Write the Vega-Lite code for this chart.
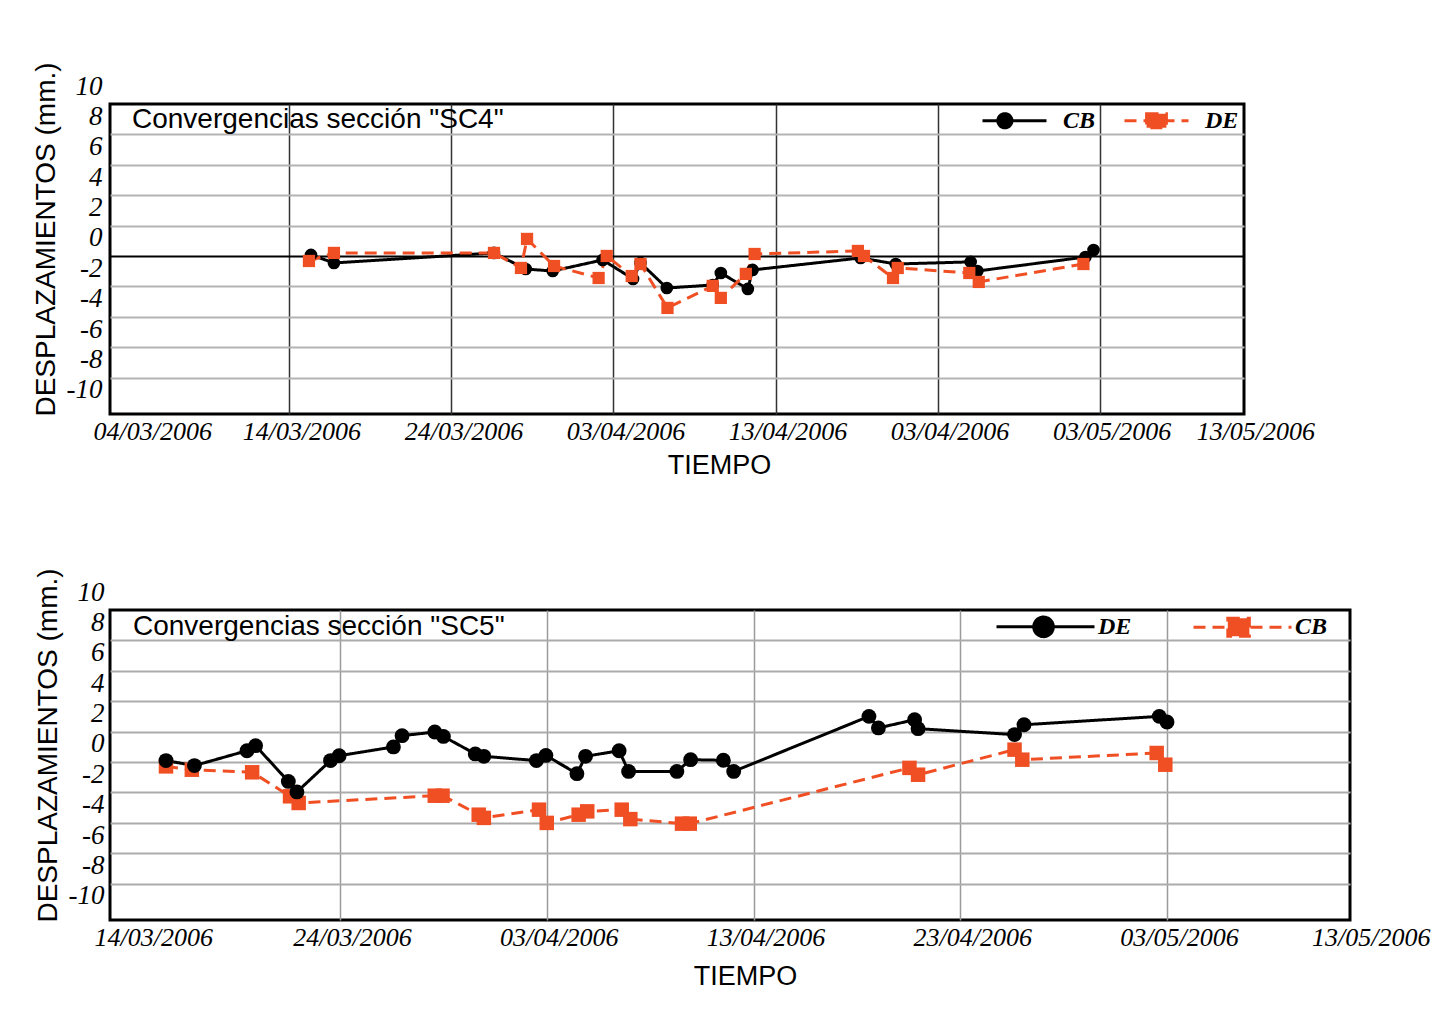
{
  "$schema": "https://vega.github.io/schema/vega-lite/v6.json",
  "background": "white",
  "padding": {"left": 30, "top": 60, "right": 0, "bottom": 0},
  "spacing": 86,
  "datasets": {
    "top": [
      {"series": "CB", "date": "2006-03-15T08:00:00Z", "value": 0.07},
      {"series": "CB", "date": "2006-03-16T18:00:00Z", "value": -0.46},
      {"series": "CB", "date": "2006-03-26T15:00:00Z", "value": 0.2},
      {"series": "CB", "date": "2006-03-28T14:00:00Z", "value": -0.86},
      {"series": "CB", "date": "2006-03-30T06:00:00Z", "value": -0.99},
      {"series": "CB", "date": "2006-04-02T08:00:00Z", "value": -0.26},
      {"series": "CB", "date": "2006-04-04T05:00:00Z", "value": -1.51},
      {"series": "CB", "date": "2006-04-04T16:00:00Z", "value": -0.46},
      {"series": "CB", "date": "2006-04-06T07:00:00Z", "value": -2.11},
      {"series": "CB", "date": "2006-04-09T03:00:00Z", "value": -1.91},
      {"series": "CB", "date": "2006-04-09T15:00:00Z", "value": -1.12},
      {"series": "CB", "date": "2006-04-11T07:00:00Z", "value": -2.17},
      {"series": "CB", "date": "2006-04-11T14:00:00Z", "value": -0.92},
      {"series": "CB", "date": "2006-04-18T06:00:00Z", "value": -0.13},
      {"series": "CB", "date": "2006-04-20T10:00:00Z", "value": -0.53},
      {"series": "CB", "date": "2006-04-25T01:00:00Z", "value": -0.39},
      {"series": "CB", "date": "2006-04-25T11:00:00Z", "value": -0.99},
      {"series": "CB", "date": "2006-05-02T03:00:00Z", "value": -0.07},
      {"series": "CB", "date": "2006-05-02T15:00:00Z", "value": 0.39},
      {"series": "DE", "date": "2006-03-15T05:00:00Z", "value": -0.33},
      {"series": "DE", "date": "2006-03-16T18:00:00Z", "value": 0.2},
      {"series": "DE", "date": "2006-03-26T15:00:00Z", "value": 0.2},
      {"series": "DE", "date": "2006-03-28T07:00:00Z", "value": -0.79},
      {"series": "DE", "date": "2006-03-28T16:00:00Z", "value": 1.12},
      {"series": "DE", "date": "2006-03-30T08:00:00Z", "value": -0.66},
      {"series": "DE", "date": "2006-04-02T02:00:00Z", "value": -1.45},
      {"series": "DE", "date": "2006-04-02T14:00:00Z", "value": 0.0},
      {"series": "DE", "date": "2006-04-04T03:00:00Z", "value": -1.32},
      {"series": "DE", "date": "2006-04-04T16:00:00Z", "value": -0.53},
      {"series": "DE", "date": "2006-04-06T08:00:00Z", "value": -3.42},
      {"series": "DE", "date": "2006-04-09T03:00:00Z", "value": -1.97},
      {"series": "DE", "date": "2006-04-09T15:00:00Z", "value": -2.76},
      {"series": "DE", "date": "2006-04-11T04:00:00Z", "value": -1.18},
      {"series": "DE", "date": "2006-04-11T17:00:00Z", "value": 0.13},
      {"series": "DE", "date": "2006-04-18T02:00:00Z", "value": 0.33},
      {"series": "DE", "date": "2006-04-18T11:00:00Z", "value": 0.0},
      {"series": "DE", "date": "2006-04-20T06:00:00Z", "value": -1.45},
      {"series": "DE", "date": "2006-04-20T13:00:00Z", "value": -0.79},
      {"series": "DE", "date": "2006-04-24T23:00:00Z", "value": -1.12},
      {"series": "DE", "date": "2006-04-25T13:00:00Z", "value": -1.71},
      {"series": "DE", "date": "2006-05-02T00:00:00Z", "value": -0.53}
    ],
    "bottom": [
      {"series": "CB", "date": "2006-03-15T14:00:00Z", "value": -0.29},
      {"series": "CB", "date": "2006-03-16T20:00:00Z", "value": -0.51},
      {"series": "CB", "date": "2006-03-19T18:00:00Z", "value": -0.68},
      {"series": "CB", "date": "2006-03-21T14:00:00Z", "value": -2.26},
      {"series": "CB", "date": "2006-03-22T00:00:00Z", "value": -2.7},
      {"series": "CB", "date": "2006-03-28T14:00:00Z", "value": -2.22},
      {"series": "CB", "date": "2006-03-28T23:00:00Z", "value": -2.22},
      {"series": "CB", "date": "2006-03-30T17:00:00Z", "value": -3.47},
      {"series": "CB", "date": "2006-03-30T23:00:00Z", "value": -3.68},
      {"series": "CB", "date": "2006-04-02T15:00:00Z", "value": -3.14},
      {"series": "CB", "date": "2006-04-03T00:00:00Z", "value": -4.01},
      {"series": "CB", "date": "2006-04-04T13:00:00Z", "value": -3.47},
      {"series": "CB", "date": "2006-04-04T23:00:00Z", "value": -3.25},
      {"series": "CB", "date": "2006-04-06T15:00:00Z", "value": -3.14},
      {"series": "CB", "date": "2006-04-07T01:00:00Z", "value": -3.76},
      {"series": "CB", "date": "2006-04-09T13:00:00Z", "value": -4.06},
      {"series": "CB", "date": "2006-04-09T22:00:00Z", "value": -4.06},
      {"series": "CB", "date": "2006-04-20T13:00:00Z", "value": -0.39},
      {"series": "CB", "date": "2006-04-20T23:00:00Z", "value": -0.84},
      {"series": "CB", "date": "2006-04-25T15:00:00Z", "value": 0.81},
      {"series": "CB", "date": "2006-04-26T00:00:00Z", "value": 0.15},
      {"series": "CB", "date": "2006-05-02T12:00:00Z", "value": 0.59},
      {"series": "CB", "date": "2006-05-02T22:00:00Z", "value": -0.18},
      {"series": "DE", "date": "2006-03-15T14:00:00Z", "value": 0.09},
      {"series": "DE", "date": "2006-03-16T23:00:00Z", "value": -0.24},
      {"series": "DE", "date": "2006-03-19T12:00:00Z", "value": 0.74},
      {"series": "DE", "date": "2006-03-19T22:00:00Z", "value": 1.07},
      {"series": "DE", "date": "2006-03-21T12:00:00Z", "value": -1.28},
      {"series": "DE", "date": "2006-03-21T22:00:00Z", "value": -1.97},
      {"series": "DE", "date": "2006-03-23T13:00:00Z", "value": 0.09},
      {"series": "DE", "date": "2006-03-23T23:00:00Z", "value": 0.41},
      {"series": "DE", "date": "2006-03-26T14:00:00Z", "value": 0.99},
      {"series": "DE", "date": "2006-03-27T00:00:00Z", "value": 1.73},
      {"series": "DE", "date": "2006-03-28T14:00:00Z", "value": 1.97},
      {"series": "DE", "date": "2006-03-29T00:00:00Z", "value": 1.68},
      {"series": "DE", "date": "2006-03-30T13:00:00Z", "value": 0.53},
      {"series": "DE", "date": "2006-03-30T23:00:00Z", "value": 0.37},
      {"series": "DE", "date": "2006-04-02T12:00:00Z", "value": 0.09},
      {"series": "DE", "date": "2006-04-02T23:00:00Z", "value": 0.43},
      {"series": "DE", "date": "2006-04-04T11:00:00Z", "value": -0.77},
      {"series": "DE", "date": "2006-04-04T21:00:00Z", "value": 0.37},
      {"series": "DE", "date": "2006-04-06T12:00:00Z", "value": 0.74},
      {"series": "DE", "date": "2006-04-06T23:00:00Z", "value": -0.62},
      {"series": "DE", "date": "2006-04-09T07:00:00Z", "value": -0.62},
      {"series": "DE", "date": "2006-04-09T23:00:00Z", "value": 0.15},
      {"series": "DE", "date": "2006-04-11T13:00:00Z", "value": 0.11},
      {"series": "DE", "date": "2006-04-12T01:00:00Z", "value": -0.62},
      {"series": "DE", "date": "2006-04-18T14:00:00Z", "value": 3.0},
      {"series": "DE", "date": "2006-04-19T01:00:00Z", "value": 2.24},
      {"series": "DE", "date": "2006-04-20T19:00:00Z", "value": 2.78},
      {"series": "DE", "date": "2006-04-20T23:00:00Z", "value": 2.19},
      {"series": "DE", "date": "2006-04-25T15:00:00Z", "value": 1.8},
      {"series": "DE", "date": "2006-04-26T02:00:00Z", "value": 2.45},
      {"series": "DE", "date": "2006-05-02T15:00:00Z", "value": 3.0},
      {"series": "DE", "date": "2006-05-03T00:00:00Z", "value": 2.63}
    ]
  },
  "vconcat": [
    {
      "width": 1134,
      "height": 310,
      "data": {"name": "top"},
      "title": {"text": "Convergencias sección \"SC4\"", "anchor": "start", "frame": "group", "offset": -86, "dx": 22, "baseline": "middle", "font": "Liberation Sans", "fontSize": 28, "fontWeight": "normal", "color": "#000000"},
      "encoding": {
        "x": {
          "field": "date", "type": "temporal",
          "scale": {"type": "utc", "domain": [{"year": 2006, "month": 3, "date": 2, "hours": 22, "minutes": 20, "utc": true}, {"year": 2006, "month": 5, "date": 11, "hours": 21, "minutes": 50, "utc": true}]},
          "axis": {
            "values": [
              {"year": 2006, "month": 3, "date": 4, "utc": true},
              {"year": 2006, "month": 3, "date": 14, "utc": true},
              {"year": 2006, "month": 3, "date": 24, "utc": true},
              {"year": 2006, "month": 4, "date": 3, "utc": true},
              {"year": 2006, "month": 4, "date": 13, "utc": true},
              {"year": 2006, "month": 4, "date": 23, "utc": true},
              {"year": 2006, "month": 5, "date": 3, "utc": true},
              {"year": 2006, "month": 5, "date": 11, "hours": 12, "utc": true}
            ],
            "labelExpr": "utcmonth(datum.value) == 3 && utcdate(datum.value) == 23 ? '03/04/2006' : (utcmonth(datum.value) == 4 && utcdate(datum.value) == 11 ? '13/05/2006' : utcFormat(datum.value, '%d/%m/%Y'))",
            "labelOffset": {"condition": [{"test": "utcmonth(datum.value) == 2 && utcdate(datum.value) == 4", "value": 25}, {"test": "utcmonth(datum.value) == 4 && utcdate(datum.value) == 11", "value": 18}], "value": 12},
            "gridOpacity": {"condition": {"test": "(utcmonth(datum.value) == 2 && utcdate(datum.value) == 4) || (utcmonth(datum.value) == 4 && utcdate(datum.value) == 11)", "value": 0}, "value": 1},
            "gridColor": "#333333",
            "gridWidth": 1.5,
            "ticks": false, "tickSize": 0, "domain": false,
            "labelOverlap": false, "labelFlush": false, "labelBound": false,
            "labelFont": "Liberation Serif", "labelFontStyle": "italic", "labelFontSize": 26, "labelColor": "#000000", "labelPadding": 4,
            "title": "TIEMPO", "titleFont": "Liberation Sans", "titleFontSize": 27, "titleFontWeight": "normal", "titleColor": "#000000", "titlePadding": 8, "titleX": 609
          }
        },
        "y": {
          "field": "value", "type": "quantitative",
          "scale": {"domain": [-10.4, 10], "nice": false, "zero": false},
          "axis": {
            "values": [-10, -8, -6, -4, -2, 0, 2, 4, 6, 8, 10],
            "labelExpr": "'' + datum.value",
            "labelOffset": -18,
            "gridColor": {"condition": {"test": "datum.value === 0", "value": "#000000"}, "value": "#b4b4b4"},
            "gridOpacity": {"condition": {"test": "abs(datum.value) === 10", "value": 0}, "value": 1},
            "gridWidth": 2,
            "ticks": false, "tickSize": 0, "domain": false,
            "labelOverlap": false, "labelFlush": false, "labelBound": false,
            "labelFont": "Liberation Serif", "labelFontStyle": "italic", "labelFontSize": 27, "labelColor": "#000000", "labelPadding": 8,
            "title": "DESPLAZAMIENTOS (mm.)", "titleFont": "Liberation Sans", "titleFontSize": 28, "titleFontWeight": "normal", "titleColor": "#000000", "titlePadding": 6, "titleY": 135
          }
        },
        "color": {
          "field": "series", "type": "nominal",
          "scale": {"domain": ["CB", "DE"], "range": ["#000000", "#f04f24"]},
          "legend": {
            "orient": "none", "legendX": 871, "legendY": -17, "direction": "horizontal", "title": null,
            "symbolSize": 4096, "symbolStrokeWidth": 3, "padding": 0,
            "symbolType": "M-1,0L1,0M-0.08,0A0.22,0.22,0,1,1,-0.52,0A0.22,0.22,0,1,1,-0.08,0Z",
            "labelFont": "Liberation Serif", "labelFontStyle": "italic", "labelFontWeight": "bold", "labelFontSize": 24, "labelColor": "#000000",
            "labelOffset": 15, "columnPadding": 22,
            "encoding": {
              "symbols": {
                "shape": {"condition": {"test": "datum.value === 'CB'", "value": "M-1,0L1,0M-0.08,0A0.22,0.22,0,1,1,-0.52,0A0.22,0.22,0,1,1,-0.08,0Z"}, "value": "M-1,0L1,0M-0.31,-0.22H0.31V0.22H-0.31Z"},
                "fill": {"condition": {"test": "datum.value === 'CB'", "value": "#000000"}, "value": "#f04f24"},
                "stroke": {"condition": {"test": "datum.value === 'CB'", "value": "#000000"}, "value": "#f04f24"},
                "strokeDash": {"condition": {"test": "datum.value === 'CB'", "value": [1, 0]}, "value": [8, 5]},
                "opacity": {"value": 1}
              }
            }
          }
        }
      },
      "layer": [
        {
          "mark": {"type": "line", "strokeWidth": 3},
          "encoding": {"strokeDash": {"field": "series", "type": "nominal", "scale": {"domain": ["CB", "DE"], "range": [[1, 0], [12, 7]]}, "legend": null}}
        },
        {
          "transform": [{"filter": "datum.series === 'CB'"}],
          "mark": {"type": "circle", "opacity": 1, "size": 160}
        },
        {
          "transform": [{"filter": "datum.series === 'DE'"}],
          "mark": {"type": "square", "opacity": 1, "size": 150}
        }
      ]
    },
    {
      "width": 1240,
      "height": 310,
      "data": {"name": "bottom"},
      "title": {"text": "Convergencias sección \"SC5\"", "anchor": "start", "frame": "group", "offset": -87, "dx": 23, "baseline": "middle", "font": "Liberation Sans", "fontSize": 28, "fontWeight": "normal", "color": "#000000"},
      "encoding": {
        "x": {
          "field": "date", "type": "temporal",
          "scale": {"type": "utc", "domain": [{"year": 2006, "month": 3, "date": 12, "hours": 21, "minutes": 0, "utc": true}, {"year": 2006, "month": 5, "date": 11, "hours": 20, "minutes": 24, "utc": true}]},
          "axis": {
            "values": [
              {"year": 2006, "month": 3, "date": 14, "utc": true},
              {"year": 2006, "month": 3, "date": 24, "utc": true},
              {"year": 2006, "month": 4, "date": 3, "utc": true},
              {"year": 2006, "month": 4, "date": 13, "utc": true},
              {"year": 2006, "month": 4, "date": 23, "utc": true},
              {"year": 2006, "month": 5, "date": 3, "utc": true},
              {"year": 2006, "month": 5, "date": 11, "hours": 12, "utc": true}
            ],
            "labelExpr": "utcmonth(datum.value) == 4 && utcdate(datum.value) == 11 ? '13/05/2006' : utcFormat(datum.value, '%d/%m/%Y')",
            "labelOffset": {"condition": [{"test": "utcmonth(datum.value) == 2 && utcdate(datum.value) == 14", "value": 20}, {"test": "utcmonth(datum.value) == 4 && utcdate(datum.value) == 11", "value": 28}], "value": 12},
            "gridOpacity": {"condition": {"test": "(utcmonth(datum.value) == 2 && utcdate(datum.value) == 14) || (utcmonth(datum.value) == 4 && utcdate(datum.value) == 11)", "value": 0}, "value": 1},
            "gridColor": "#9a9a9a",
            "gridWidth": 1.5,
            "ticks": false, "tickSize": 0, "domain": false,
            "labelOverlap": false, "labelFlush": false, "labelBound": false,
            "labelFont": "Liberation Serif", "labelFontStyle": "italic", "labelFontSize": 26, "labelColor": "#000000", "labelPadding": 4,
            "title": "TIEMPO", "titleFont": "Liberation Sans", "titleFontSize": 27, "titleFontWeight": "normal", "titleColor": "#000000", "titlePadding": 13, "titleX": 635
          }
        },
        "y": {
          "field": "value", "type": "quantitative",
          "scale": {"domain": [-10.4, 10], "nice": false, "zero": false},
          "axis": {
            "values": [-10, -8, -6, -4, -2, 0, 2, 4, 6, 8, 10],
            "labelExpr": "'' + datum.value",
            "labelOffset": -18,
            "gridColor": "#ababab",
            "gridOpacity": {"condition": {"test": "abs(datum.value) === 10", "value": 0}, "value": 1},
            "gridWidth": 2,
            "ticks": false, "tickSize": 0, "domain": false,
            "labelOverlap": false, "labelFlush": false, "labelBound": false,
            "labelFont": "Liberation Serif", "labelFontStyle": "italic", "labelFontSize": 27, "labelColor": "#000000", "labelPadding": 6,
            "title": "DESPLAZAMIENTOS (mm.)", "titleFont": "Liberation Sans", "titleFontSize": 28, "titleFontWeight": "normal", "titleColor": "#000000", "titlePadding": 6, "titleY": 135
          }
        },
        "color": {
          "field": "series", "type": "nominal",
          "scale": {"domain": ["DE", "CB"], "range": ["#000000", "#f04f24"]},
          "legend": {
            "orient": "none", "legendX": 885, "legendY": -34, "direction": "horizontal", "title": null,
            "symbolSize": 9604, "symbolStrokeWidth": 3, "padding": 0,
            "symbolType": "M-1,0L1,0M0.16,0A0.2,0.2,0,1,1,-0.24,0A0.2,0.2,0,1,1,0.16,0Z",
            "labelFont": "Liberation Serif", "labelFontStyle": "italic", "labelFontWeight": "bold", "labelFontSize": 24, "labelColor": "#000000",
            "labelOffset": 2, "columnPadding": 55,
            "encoding": {
              "symbols": {
                "shape": {"condition": {"test": "datum.value === 'DE'", "value": "M-1,0L1,0M0.16,0A0.2,0.2,0,1,1,-0.24,0A0.2,0.2,0,1,1,0.16,0Z"}, "value": "M-1,0L1,0M-0.3,-0.185H0.14V0.185H-0.3Z"},
                "fill": {"condition": {"test": "datum.value === 'DE'", "value": "#000000"}, "value": "#f04f24"},
                "stroke": {"condition": {"test": "datum.value === 'DE'", "value": "#000000"}, "value": "#f04f24"},
                "strokeDash": {"condition": {"test": "datum.value === 'DE'", "value": [1, 0]}, "value": [10, 6]},
                "opacity": {"value": 1}
              }
            }
          }
        }
      },
      "layer": [
        {
          "mark": {"type": "line", "strokeWidth": 3},
          "encoding": {"strokeDash": {"field": "series", "type": "nominal", "scale": {"domain": ["DE", "CB"], "range": [[1, 0], [12, 7]]}, "legend": null}}
        },
        {
          "transform": [{"filter": "datum.series === 'CB'"}],
          "mark": {"type": "square", "opacity": 1, "size": 210}
        },
        {
          "transform": [{"filter": "datum.series === 'DE'"}],
          "mark": {"type": "circle", "opacity": 1, "size": 220}
        }
      ]
    }
  ],
  "resolve": {
    "scale": {"x": "independent", "y": "independent", "color": "independent", "strokeDash": "independent"},
    "legend": {"color": "independent"}
  },
  "config": {
    "view": {"stroke": "#000000", "strokeWidth": 3},
    "font": "Liberation Sans"
  }
}
